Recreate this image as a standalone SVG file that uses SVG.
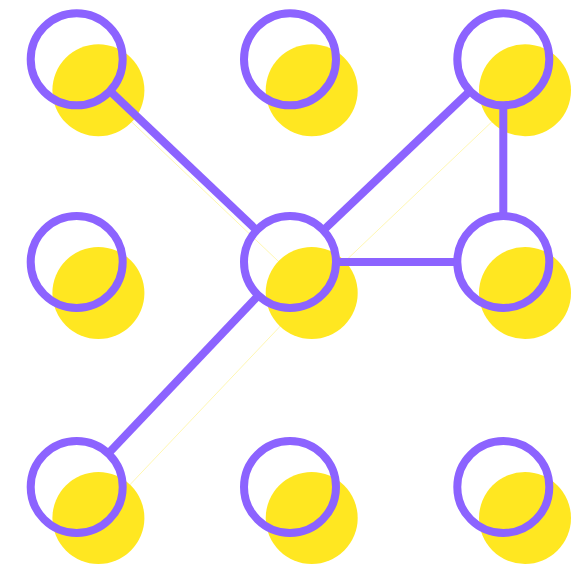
<svg xmlns="http://www.w3.org/2000/svg" width="584" height="573" viewBox="0 0 584 573">
<style>
.ydot{fill:#FFE721;}
.yline{stroke:#FFE721;stroke-width:1;stroke-opacity:0.35;fill:none;}
.pline{stroke:#8C63FF;stroke-width:8;fill:none;stroke-linecap:butt;}
.pdot{fill:none;stroke:#8C63FF;stroke-width:8;}
</style>
<rect width="584" height="573" fill="#FFFFFF"/>
<g id="shadow-connectors">
<line class="yline" x1="98.4" y1="90.3" x2="311.7" y2="293"/>
<line class="yline" x1="311.7" y1="293" x2="525" y2="90.3"/>
<line class="yline" x1="311.7" y1="293" x2="98.4" y2="518"/>
</g>
<g id="shadows">
<circle class="ydot" cx="98.4" cy="90.3" r="46"/>
<circle class="ydot" cx="311.7" cy="90.3" r="46"/>
<circle class="ydot" cx="525" cy="90.3" r="46"/>
<circle class="ydot" cx="98.4" cy="293" r="46"/>
<circle class="ydot" cx="311.7" cy="293" r="46"/>
<circle class="ydot" cx="525" cy="293" r="46"/>
<circle class="ydot" cx="98.4" cy="518" r="46"/>
<circle class="ydot" cx="311.7" cy="518" r="46"/>
<circle class="ydot" cx="525" cy="518" r="46"/>
</g>
<g id="connectors">
<line class="pline" x1="110.0" y1="91.0" x2="256.7" y2="230.3"/>
<line class="pline" x1="323.3" y1="230.3" x2="470.0" y2="91.0"/>
<line class="pline" x1="503.3" y1="105.3" x2="503.3" y2="216"/>
<line class="pline" x1="336" y1="262" x2="457.3" y2="262"/>
<line class="pline" x1="258.3" y1="295.4" x2="108.3" y2="453.6"/>
</g>
<g id="node-1"><circle class="pdot" cx="76.7" cy="59.3" r="46"/></g>
<g id="node-2"><circle class="pdot" cx="290" cy="59.3" r="46"/></g>
<g id="node-3"><circle class="pdot" cx="503.3" cy="59.3" r="46"/></g>
<g id="node-4"><circle class="pdot" cx="76.7" cy="262" r="46"/></g>
<g id="node-5"><circle class="pdot" cx="290" cy="262" r="46"/></g>
<g id="node-6"><circle class="pdot" cx="503.3" cy="262" r="46"/></g>
<g id="node-7"><circle class="pdot" cx="76.7" cy="487" r="46"/></g>
<g id="node-8"><circle class="pdot" cx="290" cy="487" r="46"/></g>
<g id="node-9"><circle class="pdot" cx="503.3" cy="487" r="46"/></g>
</svg>
